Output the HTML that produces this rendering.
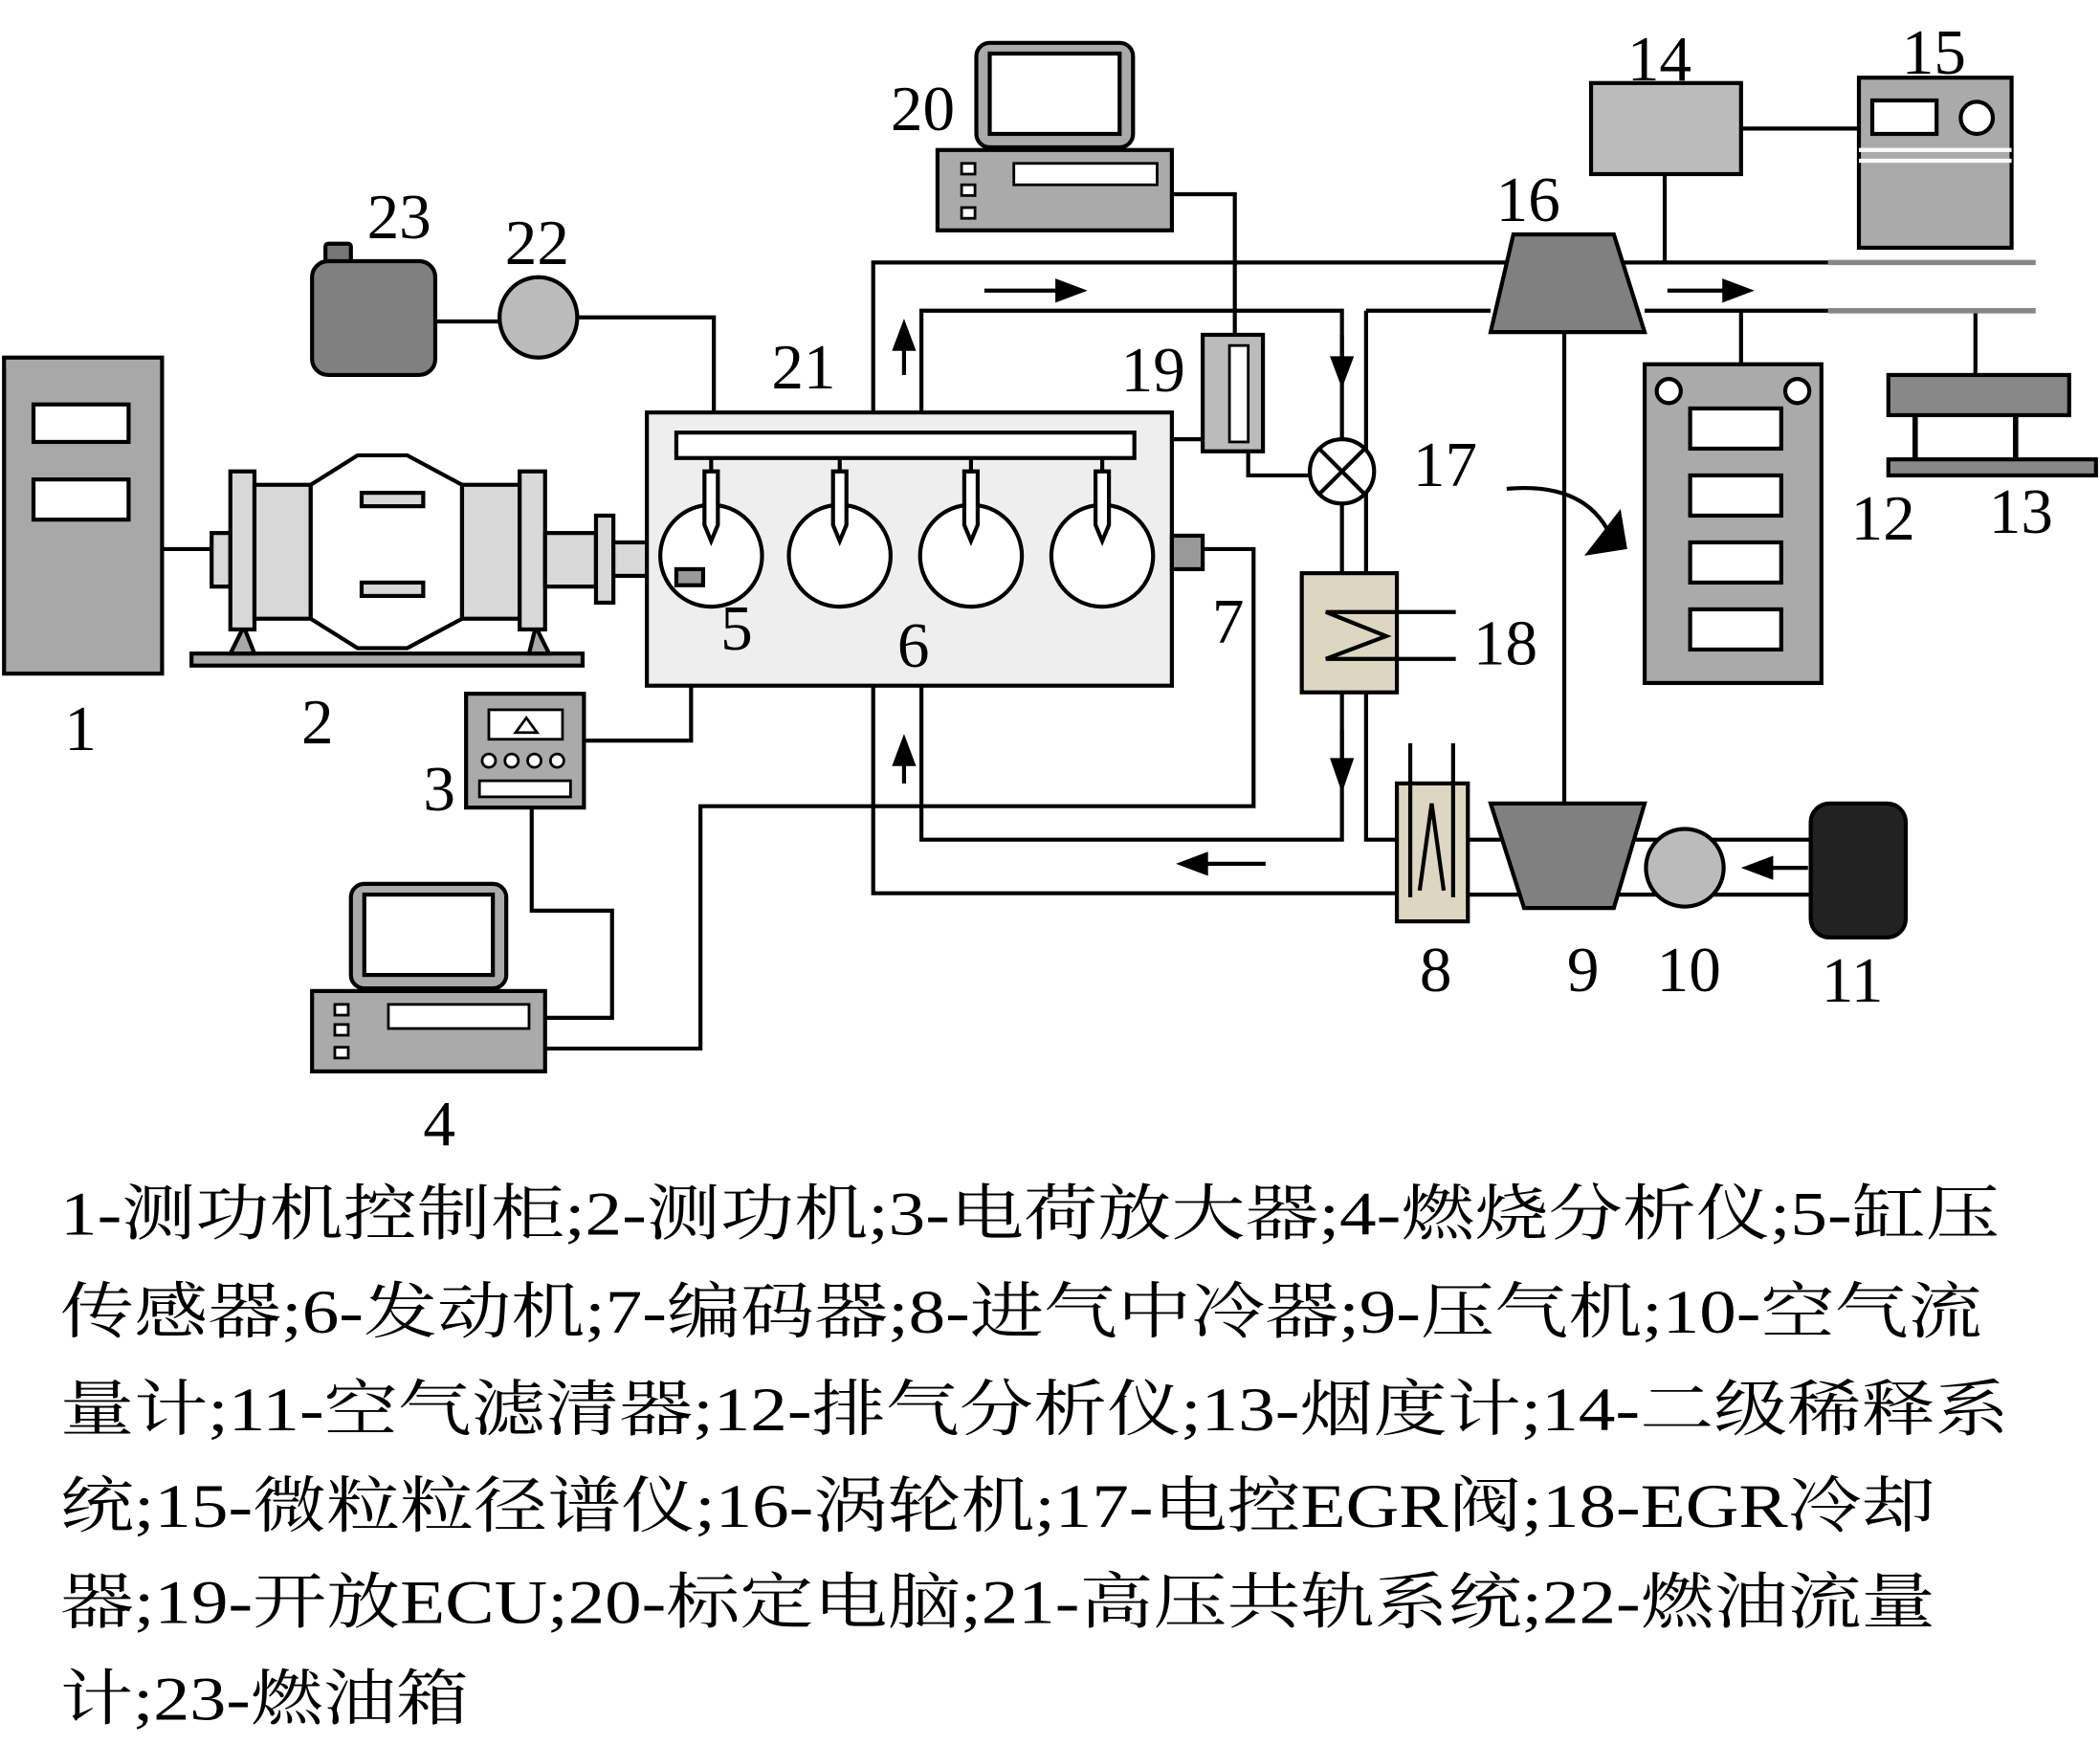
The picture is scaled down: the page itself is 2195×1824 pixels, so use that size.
<!DOCTYPE html>
<html><head><meta charset="utf-8"><style>html,body{margin:0;padding:0;background:#fff}svg{display:block}</style></head>
<body>
<svg width="2195" height="1824" viewBox="0 0 1568 1303" xmlns="http://www.w3.org/2000/svg">
<g fill="none" stroke="#000" stroke-width="3">
<path d="M121,410H160"/>
<path d="M898,410H936V602H523V783H407"/>
<path d="M436,553H516V432"/>
<path d="M397,603V680H457V760H407"/>
<path d="M875,145H922V250"/>
<path d="M875,328H898"/>
<path d="M932,337V355H978"/>
<path d="M325,240H373M431,237H533V323"/>
<path d="M652,308V196H1125"/>
<path d="M688,308V232H1002V328"/>
<path d="M1020,232H1113M1020,232V627H1043"/>
<path d="M1002,376V428"/>
<path d="M1043,457H1087M1043,492H1087"/>
<path d="M1002,517V627H688V512"/>
<path d="M652,512V667H1043"/>
<path d="M1168,248V600"/>
<path d="M1096,627H1122M1096,668H1140"/>
<path d="M1205,627H1352M1205,668H1352"/>
<path d="M1300,96H1388M1243,130V196"/>
<path d="M1300,232V272M1475,232V280"/>
<path d="M1205,196H1365M1228,232H1365"/>
</g>
<g stroke="#888" stroke-width="4"><path d="M1365,196H1520M1365,232H1520"/></g>
<rect x="3" y="267" width="118" height="236" fill="#a8a8a8" stroke="#000" stroke-width="3"/>
<rect x="25" y="302" width="71" height="28" fill="#fff" stroke="#000" stroke-width="3"/>
<rect x="25" y="358" width="71" height="30" fill="#fff" stroke="#000" stroke-width="3"/>
<g stroke="#000" stroke-width="3" fill="#d8d8d8">
<rect x="143" y="488" width="292" height="9" fill="#a8a8a8"/>
<path d="M172,488 L182,468 L190,488z M395,488 L400,468 L410,488z" fill="#a8a8a8"/>
<rect x="158" y="398" width="14" height="40"/>
<rect x="172" y="352" width="18" height="118"/>
<rect x="190" y="362" width="42" height="100"/>
<path d="M232,362 L267,340 L304,340 L345,362 L345,462 L304,484 L267,484 L232,462z" fill="#fff"/>
<rect x="270" y="368" width="46" height="10"/>
<rect x="270" y="435" width="46" height="10"/>
<rect x="345" y="362" width="43" height="100"/>
<rect x="388" y="352" width="19" height="118"/>
<rect x="407" y="398" width="38" height="40"/>
<rect x="445" y="385" width="13" height="65"/>
<rect x="458" y="405" width="25" height="25"/>
</g>
<rect x="483" y="308" width="392" height="204" fill="#eee" stroke="#000" stroke-width="3"/>
<rect x="505" y="323" width="342" height="19" fill="#fff" stroke="#000" stroke-width="3"/>
<g stroke="#000" stroke-width="3" fill="#fff">
<circle cx="531" cy="415" r="38"/><circle cx="627" cy="415" r="38"/><circle cx="725" cy="415" r="38"/><circle cx="823" cy="415" r="38"/>
<path d="M531,342V352M627,342V352M725,342V352M823,342V352"/>
<path d="M526,352h10v40l-5,12l-5,-12z M622,352h10v40l-5,12l-5,-12z M720,352h10v40l-5,12l-5,-12z M818,352h10v40l-5,12l-5,-12z"/>
<rect x="505" y="425" width="20" height="12" fill="#999"/>
<rect x="875" y="400" width="23" height="25" fill="#999"/>
</g>
<rect x="348" y="518" width="88" height="85" fill="#aaa" stroke="#000" stroke-width="3"/>
<rect x="365" y="530" width="55" height="22" fill="#fff" stroke="#000" stroke-width="2"/>
<path d="M385,547 L393,536 L401,547z" fill="none" stroke="#000" stroke-width="2"/>
<g fill="#fff" stroke="#000" stroke-width="2"><circle cx="365" cy="568" r="5"/><circle cx="382" cy="568" r="5"/><circle cx="399" cy="568" r="5"/><circle cx="416" cy="568" r="5"/><rect x="358" y="583" width="68" height="12"/></g>
<g stroke="#000" stroke-width="3">
<rect x="262" y="660" width="116" height="78" rx="10" fill="#aaa"/>
<rect x="272" y="668" width="96" height="60" fill="#fff"/>
<rect x="233" y="740" width="174" height="60" fill="#aaa"/>
<rect x="290" y="750" width="105" height="18" fill="#fff" stroke-width="2"/>
<g fill="#fff" stroke-width="2"><rect x="250" y="750" width="10" height="8"/><rect x="250" y="765" width="10" height="8"/><rect x="250" y="782" width="10" height="8"/></g>
</g>
<g stroke="#000" stroke-width="3">
<rect x="729" y="32" width="117" height="78" rx="10" fill="#aaa"/>
<rect x="739" y="40" width="97" height="60" fill="#fff"/>
<rect x="700" y="112" width="175" height="60" fill="#aaa"/>
<rect x="757" y="122" width="107" height="16" fill="#fff" stroke-width="2"/>
<g fill="#fff" stroke-width="2"><rect x="718" y="122" width="10" height="8"/><rect x="718" y="138" width="10" height="8"/><rect x="718" y="155" width="10" height="8"/></g>
</g>
<rect x="898" y="250" width="45" height="87" fill="#bbb" stroke="#000" stroke-width="3"/>
<rect x="918" y="258" width="14" height="72" fill="#fff" stroke="#000" stroke-width="2"/>
<rect x="243" y="182" width="19" height="16" rx="2" fill="#777" stroke="#000" stroke-width="3"/>
<rect x="233" y="195" width="92" height="85" rx="12" fill="#808080" stroke="#000" stroke-width="3"/>
<ellipse cx="402" cy="237" rx="29" ry="30" fill="#bbb" stroke="#000" stroke-width="3"/>
<circle cx="1002" cy="352" r="24" fill="#fff" stroke="#000" stroke-width="3"/>
<path d="M985,335L1019,369M1019,335L985,369" stroke="#000" stroke-width="3"/>
<rect x="972" y="428" width="71" height="89" fill="#ddd6c0" stroke="#000" stroke-width="3"/>
<path d="M1043,457H990L1035,475L990,492H1043" fill="none" stroke="#000" stroke-width="3"/>
<rect x="1043" y="585" width="53" height="103" fill="#ddd6c0" stroke="#000" stroke-width="3"/>
<path d="M1053,555V670M1085,555V670M1060,665L1069,600L1078,665" fill="none" stroke="#000" stroke-width="3"/>
<path d="M1130,175H1205L1228,248H1113z" fill="#808080" stroke="#000" stroke-width="3"/>
<path d="M1113,600H1228L1205,678H1138z" fill="#808080" stroke="#000" stroke-width="3"/>
<circle cx="1258" cy="648" r="29" fill="#bbb" stroke="#000" stroke-width="3"/>
<rect x="1352" y="600" width="71" height="100" rx="14" fill="#222" stroke="#000" stroke-width="3"/>
<rect x="1188" y="62" width="112" height="68" fill="#bbb" stroke="#000" stroke-width="3"/>
<rect x="1388" y="58" width="114" height="127" fill="#aaa" stroke="#000" stroke-width="3"/>
<rect x="1398" y="75" width="48" height="25" fill="#fff" stroke="#000" stroke-width="3"/>
<circle cx="1476" cy="88" r="12" fill="#fff" stroke="#000" stroke-width="3"/>
<path d="M1388,112H1502M1388,120H1502" stroke="#fff" stroke-width="3"/>
<rect x="1228" y="272" width="132" height="238" fill="#aaa" stroke="#000" stroke-width="3"/>
<circle cx="1246" cy="292" r="9" fill="#fff" stroke="#000" stroke-width="3"/>
<circle cx="1342" cy="292" r="9" fill="#fff" stroke="#000" stroke-width="3"/>
<g fill="#fff" stroke="#000" stroke-width="3"><rect x="1262" y="305" width="68" height="30"/><rect x="1262" y="355" width="68" height="30"/><rect x="1262" y="405" width="68" height="30"/><rect x="1262" y="455" width="68" height="30"/></g>
<rect x="1410" y="280" width="135" height="30" fill="#888" stroke="#000" stroke-width="3"/>
<path d="M1430,310V343M1505,310V343" stroke="#000" stroke-width="4"/>
<rect x="1410" y="343" width="155" height="12" fill="#888" stroke="#000" stroke-width="3"/>
<!-- arrows -->
<g stroke="#000" stroke-width="3" fill="none">
<path d="M735,217H790"/><path d="M675,280V260"/><path d="M1002,250V268"/><path d="M1245,217H1290"/>
<path d="M1002,545V568"/><path d="M945,645H900"/><path d="M675,585V568"/><path d="M1350,648H1322"/>
<path d="M1125,365 Q1180,360 1200,395"/>
</g>
<g fill="#000">
<path d="M812,217 L788,208 L788,226z"/>
<path d="M675,238 L666,262 L684,262z"/>
<path d="M1002,290 L993,266 L1011,266z"/>
<path d="M1310,217 L1286,208 L1286,226z"/>
<path d="M1002,592 L993,566 L1011,566z"/>
<path d="M878,645 L902,636 L902,654z"/>
<path d="M675,548 L666,572 L684,572z"/>
<path d="M1300,648 L1324,639 L1324,657z"/>
<path d="M1215,410 L1183,415 L1210,380z"/>
</g>
<g font-family="Liberation Serif, serif" font-size="48" fill="#000">
<text x="48" y="560">1</text><text x="225" y="555">2</text><text x="316" y="605">3</text><text x="316" y="855">4</text>
<text x="538" y="485">5</text><text x="670" y="498">6</text><text x="905" y="480">7</text>
<text x="1060" y="740">8</text><text x="1170" y="740">9</text><text x="1237" y="740">10</text><text x="1360" y="748">11</text>
<text x="1382" y="403">12</text><text x="1485" y="398">13</text><text x="1215" y="60">14</text><text x="1420" y="55">15</text>
<text x="1117" y="165">16</text><text x="1055" y="363">17</text><text x="1100" y="496">18</text><text x="837" y="292">19</text>
<text x="665" y="97">20</text><text x="576" y="290">21</text><text x="377" y="197">22</text><text x="274" y="178">23</text>
</g>
<g font-family="Liberation Serif, Noto Serif CJK SC, serif" font-size="46" fill="#000">
<text x="45" y="922" textLength="1448" lengthAdjust="spacingAndGlyphs">1-测功机控制柜;2-测功机;3-电荷放大器;4-燃烧分析仪;5-缸压</text>
<text x="45" y="995" textLength="1435" lengthAdjust="spacingAndGlyphs">传感器;6-发动机;7-编码器;8-进气中冷器;9-压气机;10-空气流</text>
<text x="45" y="1068" textLength="1455" lengthAdjust="spacingAndGlyphs">量计;11-空气滤清器;12-排气分析仪;13-烟度计;14-二级稀释系</text>
<text x="45" y="1140" textLength="1400" lengthAdjust="spacingAndGlyphs">统;15-微粒粒径谱仪;16-涡轮机;17-电控EGR阀;18-EGR冷却</text>
<text x="45" y="1212" textLength="1400" lengthAdjust="spacingAndGlyphs">器;19-开放ECU;20-标定电脑;21-高压共轨系统;22-燃油流量</text>
<text x="45" y="1284" textLength="305" lengthAdjust="spacingAndGlyphs">计;23-燃油箱</text>
</g>
</svg>
</body></html>
